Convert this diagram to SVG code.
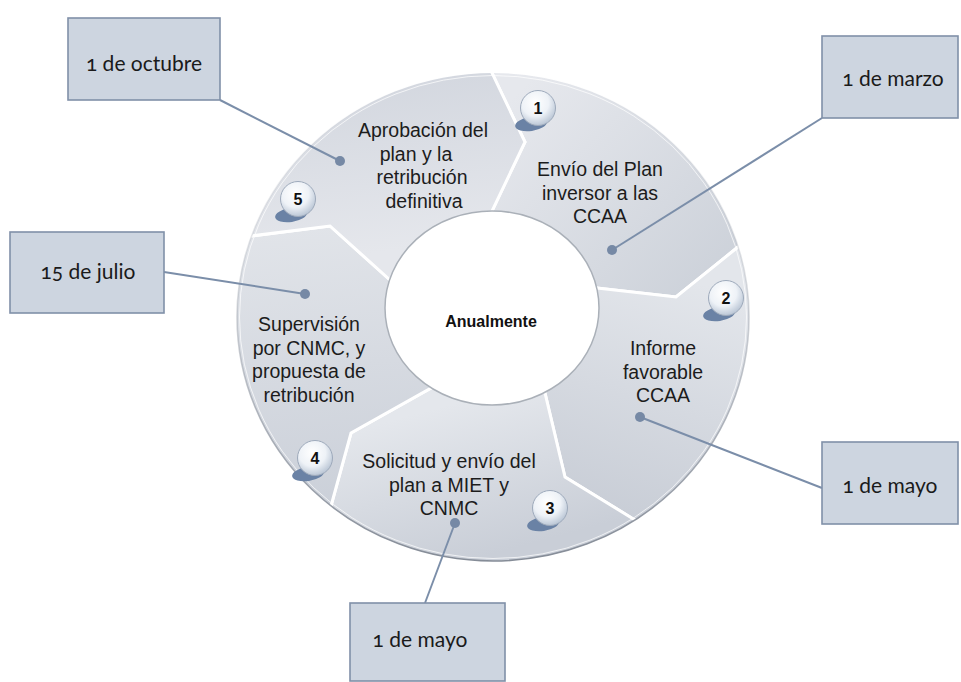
<svg xmlns="http://www.w3.org/2000/svg" width="961" height="682" viewBox="0 0 961 682">
  <style>
    .seg { stroke: #ffffff; stroke-width: 3; stroke-linejoin: miter; }
    .lbl { font-family: "Liberation Sans", Arial, sans-serif; font-size: 19.5px; fill: #1c1c1c; text-anchor: middle; }
    .center { font-family: "Liberation Sans", Arial, sans-serif; font-size: 16px; font-weight: bold; fill: #111; text-anchor: middle; }
    .num { font-family: "Liberation Sans", Arial, sans-serif; font-size: 16px; font-weight: bold; fill: #111; text-anchor: middle; }
    .box { fill: #cdd5e0; stroke: #8090a8; stroke-width: 1.6; }
    .date { font-family: Lato, "Open Sans", sans-serif; font-size: 21px; fill: #1a1a1a; text-anchor: middle; font-variant-numeric: oldstyle-nums; font-feature-settings: "onum"; }
    .conn { stroke: #7b8ea9; stroke-width: 2; fill: none; }
    .dot { fill: #7689a5; }
    .ball { fill: url(#ballGrad); stroke: #9eaabb; stroke-width: 1; }
    .shade { fill: #6a82a5; }
  </style>
  <defs>
    <clipPath id="ringClip">
      <ellipse cx="493" cy="317" rx="256" ry="244"/>
    </clipPath>
    <linearGradient id="g1" gradientUnits="userSpaceOnUse" x1="510" y1="100" x2="700" y2="290">
      <stop offset="0" stop-color="#e6e8ed"/>
      <stop offset="1" stop-color="#cdd2da"/>
    </linearGradient>
    <linearGradient id="g2" gradientUnits="userSpaceOnUse" x1="690" y1="280" x2="620" y2="520">
      <stop offset="0" stop-color="#e3e6eb"/>
      <stop offset="1" stop-color="#c8cdd6"/>
    </linearGradient>
    <linearGradient id="g3" gradientUnits="userSpaceOnUse" x1="430" y1="410" x2="470" y2="560">
      <stop offset="0" stop-color="#e4e7ec"/>
      <stop offset="1" stop-color="#c9ced7"/>
    </linearGradient>
    <linearGradient id="g4" gradientUnits="userSpaceOnUse" x1="280" y1="230" x2="310" y2="510">
      <stop offset="0" stop-color="#e1e4e9"/>
      <stop offset="1" stop-color="#cbd0d9"/>
    </linearGradient>
    <linearGradient id="g5" gradientUnits="userSpaceOnUse" x1="380" y1="75" x2="400" y2="250">
      <stop offset="0" stop-color="#d3d7df"/>
      <stop offset="1" stop-color="#e5e7ec"/>
    </linearGradient>
    <linearGradient id="rimGrad" gradientUnits="userSpaceOnUse" x1="0" y1="73" x2="0" y2="561">
      <stop offset="0" stop-color="#9aa0aa" stop-opacity="0"/>
      <stop offset="0.4" stop-color="#9aa0aa" stop-opacity="0.3"/>
      <stop offset="1" stop-color="#858c97" stop-opacity="1"/>
    </linearGradient>
    <radialGradient id="ballGrad" cx="0.42" cy="0.35" r="0.7">
      <stop offset="0" stop-color="#ffffff"/>
      <stop offset="0.55" stop-color="#eef2f7"/>
      <stop offset="1" stop-color="#b2bfd0"/>
    </radialGradient>
  </defs>

  <rect width="961" height="682" fill="#ffffff"/>

  <!-- cycle ring: five chevron segments clipped to the outer ellipse -->
  <g id="ring" clip-path="url(#ringClip)">
    <path id="seg1" class="seg" fill="url(#g1)" d="M492,308 L492,211 L525,142 L492,73 L492,-142 L769,-47 L929,200 L738,247 L676,297 L597,288 Z"/>
    <path id="seg2" class="seg" fill="url(#g2)" d="M492,308 L597,288 L676,297 L738,247 L929,200 L912,469 L744,681 L635,520 L565,477 L545,393 Z"/>
    <path id="seg3" class="seg" fill="url(#g3)" d="M492,308 L545,393 L565,477 L635,520 L744,681 L472,758 L208,657 L331,506 L351,433 L431,388 Z"/>
    <path id="seg4" class="seg" fill="url(#g4)" d="M492,308 L431,388 L351,433 L331,506 L208,657 L62,440 L61,179 L251,236 L330,226 L390,280 Z"/>
    <path id="seg5" class="seg" fill="url(#g5)" d="M492,308 L390,280 L330,226 L251,236 L61,179 L223,-53 L492,-142 L492,73 L525,142 L492,211 Z"/>
  </g>
  <ellipse cx="493" cy="317" rx="256" ry="244" fill="none" stroke="url(#rimGrad)" stroke-width="1.6"/>
  <ellipse cx="493" cy="317" rx="253.5" ry="241.5" fill="none" stroke="#ffffff" stroke-opacity="0.7" stroke-width="1"/>

  <!-- centre -->
  <g id="centre">
    <ellipse cx="492" cy="308" rx="107" ry="97" fill="#ffffff" stroke="#aab0b8" stroke-width="1.5"/>
    <text class="center" x="491" y="327">Anualmente</text>
  </g>

  <!-- step labels -->
  <g id="step1">
    <text class="lbl" x="600" y="176">Envío del Plan</text>
    <text class="lbl" x="600" y="199.5">inversor a las</text>
    <text class="lbl" x="600" y="223">CCAA</text>
  </g>
  <g id="step2">
    <text class="lbl" x="663" y="355">Informe</text>
    <text class="lbl" x="663" y="378.5">favorable</text>
    <text class="lbl" x="663" y="402">CCAA</text>
  </g>
  <g id="step3">
    <text class="lbl" x="449" y="468">Solicitud y envío del</text>
    <text class="lbl" x="449" y="491.5">plan a MIET y</text>
    <text class="lbl" x="449" y="515">CNMC</text>
  </g>
  <g id="step4">
    <text class="lbl" x="309" y="331">Supervisión</text>
    <text class="lbl" x="309" y="354.5">por CNMC, y</text>
    <text class="lbl" x="309" y="378">propuesta de</text>
    <text class="lbl" x="309" y="401.5">retribución</text>
  </g>
  <g id="step5">
    <text class="lbl" x="423" y="137">Aprobación del</text>
    <text class="lbl" x="416" y="160.5">plan y la</text>
    <text class="lbl" x="422" y="184">retribución</text>
    <text class="lbl" x="424" y="207.5">definitiva</text>
  </g>

  <!-- numbered badges -->
  <g id="badge1" transform="translate(538,108)">
    <ellipse class="shade" cx="-7" cy="16" rx="16" ry="7" transform="rotate(-8 -7 16)"/>
    <circle class="ball" r="17.5"/>
    <text class="num" y="6">1</text>
  </g>
  <g id="badge2" transform="translate(726,298)">
    <ellipse class="shade" cx="-7" cy="16" rx="16" ry="7" transform="rotate(-8 -7 16)"/>
    <circle class="ball" r="17.5"/>
    <text class="num" y="6">2</text>
  </g>
  <g id="badge3" transform="translate(550,508)">
    <ellipse class="shade" cx="-7" cy="16" rx="16" ry="7" transform="rotate(-8 -7 16)"/>
    <circle class="ball" r="17.5"/>
    <text class="num" y="6">3</text>
  </g>
  <g id="badge4" transform="translate(315,458)">
    <ellipse class="shade" cx="-7" cy="16" rx="16" ry="7" transform="rotate(-8 -7 16)"/>
    <circle class="ball" r="17.5"/>
    <text class="num" y="6">4</text>
  </g>
  <g id="badge5" transform="translate(298,199)">
    <ellipse class="shade" cx="-7" cy="16" rx="16" ry="7" transform="rotate(-8 -7 16)"/>
    <circle class="ball" r="17.5"/>
    <text class="num" y="6">5</text>
  </g>

  <!-- callout connectors -->
  <g id="connectors">
    <line class="conn" x1="220" y1="100" x2="340" y2="161"/>
    <circle class="dot" cx="340" cy="161" r="5"/>
    <line class="conn" x1="822" y1="118" x2="612" y2="250"/>
    <circle class="dot" cx="612" cy="250" r="5"/>
    <line class="conn" x1="164" y1="272" x2="305" y2="294"/>
    <circle class="dot" cx="305" cy="294" r="5"/>
    <line class="conn" x1="822" y1="488" x2="640" y2="417"/>
    <circle class="dot" cx="640" cy="417" r="5"/>
    <line class="conn" x1="425" y1="603" x2="455" y2="523"/>
    <circle class="dot" cx="455" cy="523" r="5"/>
  </g>

  <!-- date callouts -->
  <g id="date-octubre">
    <rect class="box" x="68" y="18" width="152" height="82"/>
    <text class="date" x="144" y="71">1 de octubre</text>
  </g>
  <g id="date-marzo">
    <rect class="box" x="822" y="36" width="136" height="82"/>
    <text class="date" x="893" y="86">1 de marzo</text>
  </g>
  <g id="date-julio">
    <rect class="box" x="10" y="232" width="154" height="81"/>
    <text class="date" x="88" y="279">15 de julio</text>
  </g>
  <g id="date-mayo-right">
    <rect class="box" x="822" y="442" width="136" height="82"/>
    <text class="date" x="890" y="493">1 de mayo</text>
  </g>
  <g id="date-mayo-bottom">
    <rect class="box" x="350" y="603" width="155" height="78"/>
    <text class="date" x="420" y="647">1 de mayo</text>
  </g>
</svg>
